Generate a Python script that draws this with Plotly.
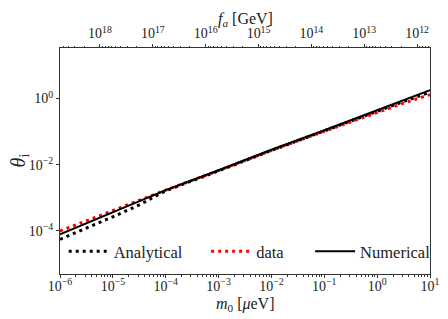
import math
import plotly.graph_objects as go

# m0 in micro-eV
m0 = [1e-6, 3.16e-6, 1e-5, 3.16e-5, 1e-4, 1e-3, 1e-2, 1e-1, 1.0, 3.16, 10.0]
theta_numerical = [7.76e-5, 1.66e-4, 3.55e-4, 7.94e-4, 1.70e-3, 6.76e-3, 2.82e-2, 0.110, 0.447, 0.891, 1.78]
theta_data = [9.77e-5, 2.00e-4, 4.07e-4, 8.32e-4, 1.70e-3, 6.61e-3, 2.69e-2, 0.102, 0.389, 0.724, 1.32]
theta_analytical = [5.50e-5, 1.17e-4, 2.63e-4, 6.03e-4, 1.62e-3, 6.46e-3, 2.69e-2, 0.105, 0.417, 0.813, 1.55]
fa_scale = 5.7e12  # f_a [GeV] = fa_scale / m0[ueV]
fa = [fa_scale / m for m in m0]

x_exps = [-6, -5, -4, -3, -2, -1, 0, 1]
fa_exps = [18, 17, 16, 15, 14, 13, 12]
y_exps = [-4, -2, 0]


def pow_label(e):
    s = str(e).replace("-", "−")
    return f"10<sup>{s}</sup>"


FONT = "Liberation Serif, DejaVu Serif, Times New Roman, serif"
TXT = "#222"

fig = go.Figure()
fig.add_trace(go.Scatter(x=m0, y=theta_analytical, mode="lines", name="Analytical",
                         line=dict(color="black", width=3, dash="3px,4px"), legend="legend"))
fig.add_trace(go.Scatter(x=m0, y=theta_data, mode="lines", name="data",
                         line=dict(color="red", width=3, dash="3px,4px"), legend="legend2"))
fig.add_trace(go.Scatter(x=m0, y=theta_numerical, mode="lines", name="Numerical",
                         line=dict(color="black", width=2), legend="legend3"))
fig.add_trace(go.Scatter(x=fa, y=theta_numerical, xaxis="x2", mode="lines",
                         line=dict(color="rgba(0,0,0,0)", width=0), showlegend=False, hoverinfo="skip"))

lo, hi = math.log10(m0[0]), math.log10(m0[-1])

axis_common = dict(type="log", showgrid=False, zeroline=False, showline=True, linecolor="#333",
                   linewidth=1, ticks="outside", ticklen=3, tickcolor="#333", automargin=False,
                   ticklabeloverflow="allow",
                   tickfont=dict(family=FONT, size=14, color=TXT))
minor = dict(ticks="outside", ticklen=1.5, tickcolor="#333", dtick="D1")

leg = dict(y=0.10, xanchor="left", yanchor="middle", bgcolor="rgba(0,0,0,0)", itemwidth=40,
           font=dict(family=FONT, size=16.5, color=TXT))

fig.update_layout(
    width=440, height=311,
    margin=dict(l=52, r=16, t=40, b=45),
    plot_bgcolor="white", paper_bgcolor="white",
    font=dict(family=FONT, color=TXT),
    xaxis=dict(axis_common, range=[lo, hi], ticklabelstandoff=-4,
               tickvals=[10.0 ** e for e in x_exps], ticktext=[pow_label(e) for e in x_exps],
               minor=minor),
    xaxis2=dict(axis_common, overlaying="x", side="top",
                range=[math.log10(fa_scale) - lo, math.log10(fa_scale) - hi],
                tickvals=[10.0 ** e for e in fa_exps], ticktext=[pow_label(e) for e in fa_exps],
                minor=minor),
    yaxis=dict(axis_common, range=[-5.31, 1.53], mirror=True,
               tickvals=[10.0 ** e for e in y_exps], ticktext=[pow_label(e) for e in y_exps]),
    legend=dict(leg, x=0.01),
    legend2=dict(leg, x=0.395),
    legend3=dict(leg, x=0.676),
    annotations=[
        dict(text="<i>m</i><sub>0</sub> [<i>μ</i>eV]", xref="paper", yref="paper", x=0.5, y=-0.137,
             xanchor="center", yanchor="middle", showarrow=False, font=dict(family=FONT, size=16, color=TXT)),
        dict(text="<i>f<sub>a</sub></i> [GeV]", xref="paper", yref="paper", x=0.5, y=1.125,
             xanchor="center", yanchor="middle", showarrow=False, font=dict(family=FONT, size=16, color=TXT)),
        dict(text="<i>θ</i><sub>i</sub>", xref="paper", yref="paper", x=-0.11, y=0.504, textangle=-90,
             xanchor="center", yanchor="middle", showarrow=False, font=dict(family=FONT, size=20, color=TXT)),
    ],
)

fig.write_html("out.html")
